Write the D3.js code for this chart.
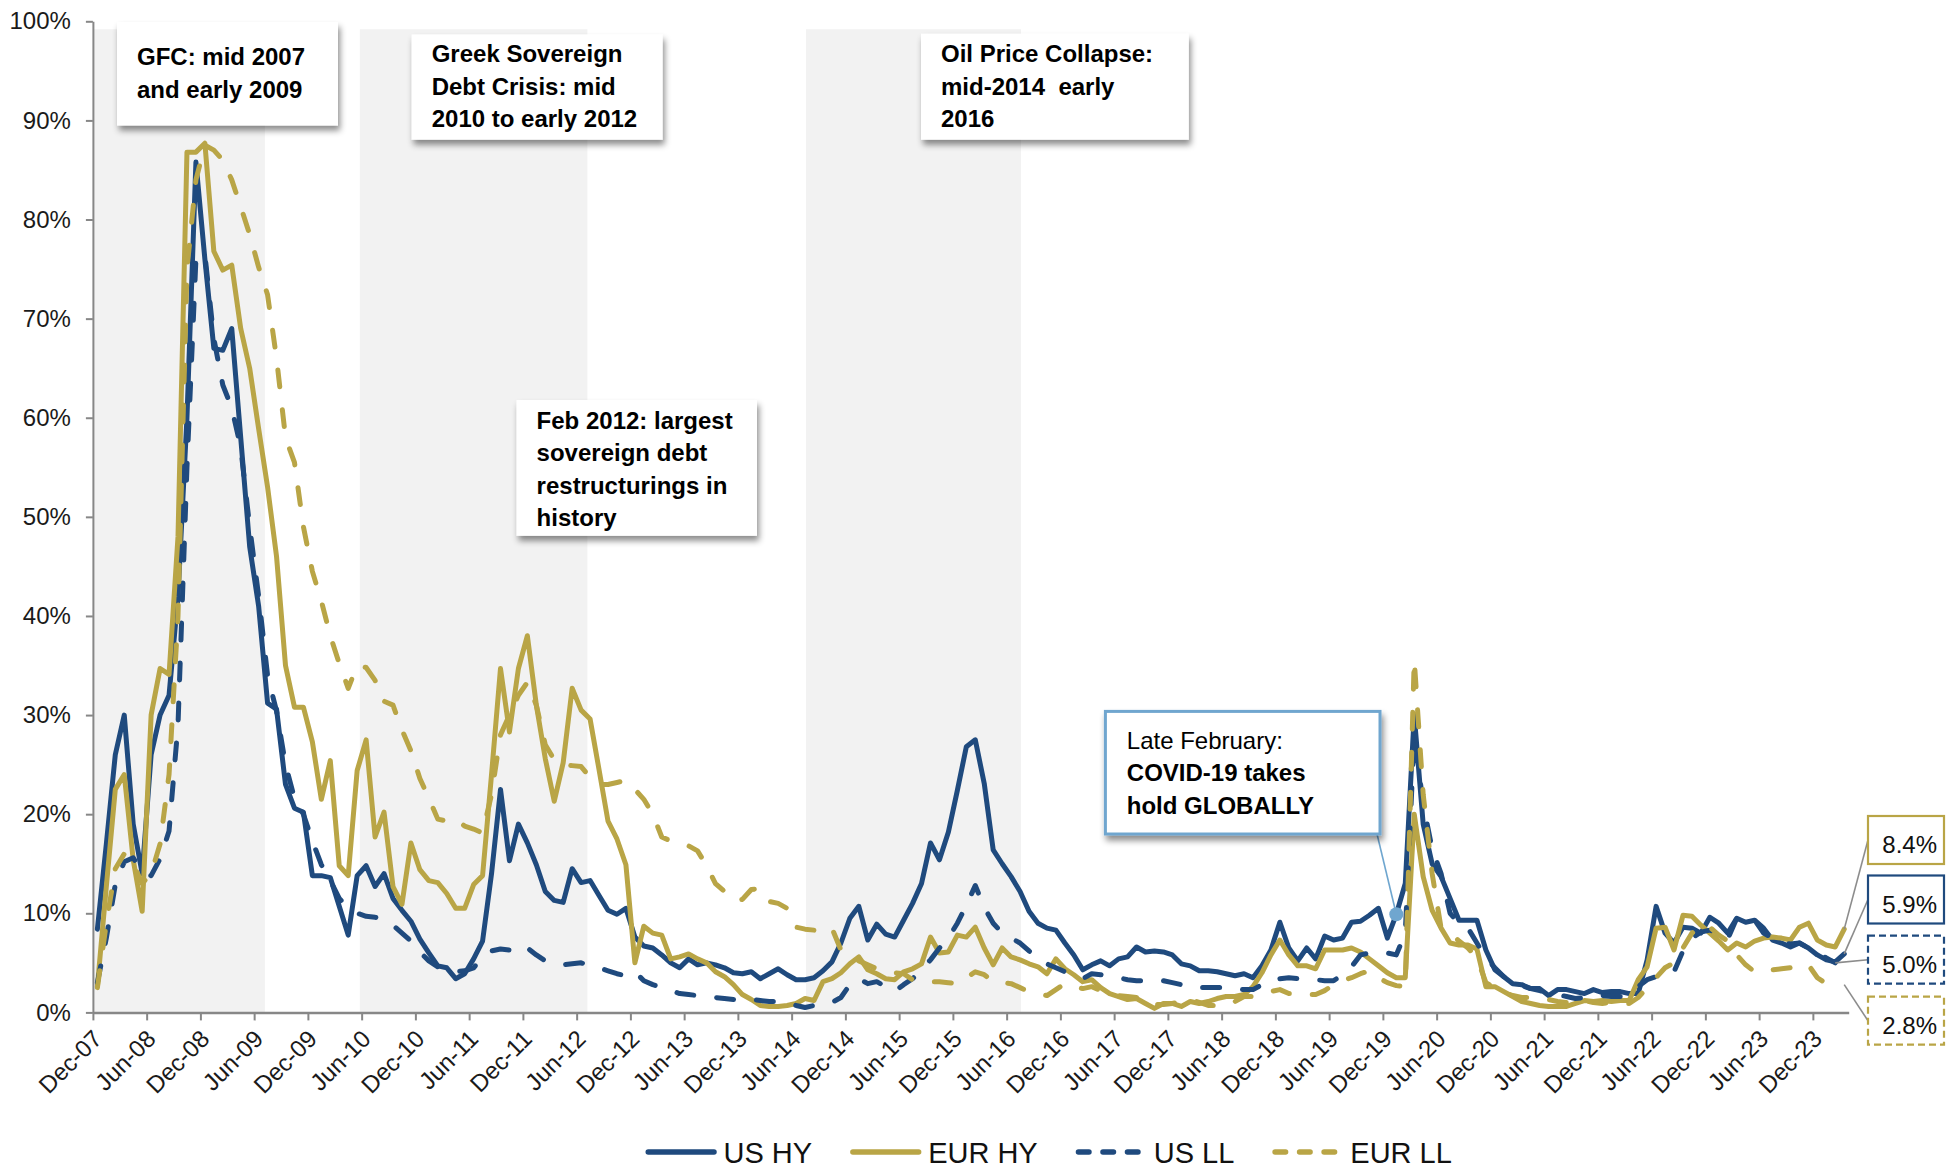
<!DOCTYPE html>
<html>
<head>
<meta charset="utf-8">
<script src="https://cdn.jsdelivr.net/npm/d3@7"></script>
<style>
  html, body { margin: 0; padding: 0; background: #ffffff; }
  svg { display: block; font-family: "Liberation Sans", Arial, Helvetica, sans-serif; }
</style>
</head>
<body>
<svg id="chart" width="1954" height="1167"></svg>
<script>
// Monthly default-rate style series, Dec-07 (index 0) through Mar-24 (index 195), in percent.
const tickLabels = ["Dec-07","Jun-08","Dec-08","Jun-09","Dec-09","Jun-10","Dec-10","Jun-11","Dec-11",
  "Jun-12","Dec-12","Jun-13","Dec-13","Jun-14","Dec-14","Jun-15","Dec-15","Jun-16","Dec-16","Jun-17",
  "Dec-17","Jun-18","Dec-18","Jun-19","Dec-19","Jun-20","Dec-20","Jun-21","Dec-21","Jun-22","Dec-22",
  "Jun-23","Dec-23"];

const yTicks = [0, 10, 20, 30, 40, 50, 60, 70, 80, 90, 100];

const usHY = [
  8.4, 17, 26, 30, 19, 14, 26, 30, 32, 42,
  60, 85.8, 76, 67, 66.8, 69, 58, 47, 41, 31.2,
  30.6, 23, 20.6, 20.2, 13.8, 13.8, 13.6, 10.7, 7.8, 13.8,
  14.8, 12.7, 14, 11.5, 10.3, 9.2, 7.4, 6, 4.7, 4.5,
  3.4, 3.9, 5.4, 7.2, 14, 22.5, 15.3, 19, 17.1, 14.9,
  12.2, 11.3, 11.1, 14.5, 13.1, 13.3, 11.8, 10.3, 9.9, 10.5,
  7.6, 6.7, 6.5, 5.8, 5.0, 4.5, 5.4, 4.8, 5.0, 4.8,
  4.5, 4.0, 3.9, 4.1, 3.4, 3.9, 4.4, 3.8, 3.3, 3.3,
  3.5, 4.2, 5.1, 7.0, 9.5, 10.7, 7.3, 8.9, 7.9, 7.6,
  9.3, 11, 13, 17.1, 15.4, 18.2, 22.4, 26.8, 27.5, 23.1,
  16.4, 15, 13.7, 12.2, 10.2, 9, 8.5, 8.3, 7, 5.8,
  4.3, 4.8, 5.2, 4.7, 5.4, 5.6, 6.6, 6.1, 6.2, 6.1,
  5.8, 4.9, 4.7, 4.2, 4.2, 4.1, 3.9, 3.7, 3.9, 3.5,
  4.7, 6.3, 9.1, 6.5, 5.2, 6.5, 5.4, 7.7, 7.3, 7.5,
  9.1, 9.2, 9.8, 10.5, 7.5, 9.9, 13, 30, 19, 15,
  13.7, 11.5, 9.3, 9.3, 9.3, 6.3, 4.3, 3.6, 2.9, 2.8,
  2.4, 2.4, 1.7, 2.3, 2.3, 2.1, 1.9, 2.3, 2.0, 2.1,
  2.1, 1.9, 1.9, 5.3, 10.7, 8.0, 7.0, 8.6, 8.5, 8.0,
  9.6, 9.0, 8.0, 9.5, 9.1, 9.3, 8.5, 7.3, 7.0, 6.6,
  7.0, 6.5, 5.8, 5.3, 5.1, 5.9
];

const eurHY = [
  2.6, 12.7, 22.5, 24, 15.4, 10.2, 30, 34.7, 34.1, 48,
  86.8, 86.8, 87.7, 76.8, 74.9, 75.4, 69, 65, 58.9, 53,
  46, 35, 30.8, 30.8, 27.3, 21.5, 25.4, 14.8, 13.8, 24.4,
  27.5, 17.7, 20.2, 12.7, 10.9, 17.1, 14.4, 13.3, 13.1, 12,
  10.5, 10.5, 12.9, 13.8, 24, 34.7, 28.3, 34.7, 38, 31,
  25.6, 21.3, 25.2, 32.7, 30.5, 29.6, 24.5, 19.3, 17.5, 14.9,
  5, 8.7, 8, 7.8, 5.4, 5.6, 5.9, 5.4, 5, 4.1,
  3.6, 2.8, 1.8, 1.3, 0.7, 0.6, 0.6, 0.7, 0.9, 1.4,
  1.2, 3.1, 3.4, 4, 4.9, 5.6, 4.3, 3.9, 3.4, 3.3,
  4.1, 4.4, 4.9, 7.6, 6, 6.1, 7.8, 7.6, 8.6, 6.5,
  4.8, 6.5, 5.6, 5.3, 4.9, 4.6, 3.9, 5.4, 4.4, 3.8,
  3.1, 3.3, 2.5, 1.9, 1.6, 1.3, 1.4, 0.9, 0.4, 0.9,
  0.9, 0.6, 1.1, 0.9, 1.1, 1.4, 1.6, 1.6, 1.8, 2.6,
  4, 5.8, 7.3, 5.8, 4.7, 4.7, 4.4, 6.3, 6.3, 6.3,
  6.5, 6.1, 5.4, 4.7, 4, 3.5, 3.5, 20, 13.7, 10.3,
  8.5, 7, 6.8, 6.8, 6.4, 2.6, 2.6, 2.1, 1.6, 1.1,
  0.9, 0.7, 0.6, 0.6, 0.6, 0.9, 1.2, 1.1, 1.2, 1.1,
  1.2, 1.2, 3.3, 4.6, 8.5, 8.6, 6.3, 9.8, 9.7, 8.8,
  8, 7.2, 6.3, 7, 6.6, 7.2, 7.5, 7.6, 7.5, 7.3,
  8.6, 9, 7.3, 6.8, 6.6, 8.4
];

const usLL = [
  3, 7.5, 12.9, 15.2, 15.6, 14.2, 13.8, 15.5, 18.3, 29,
  55, 76, 76.5, 68, 63.3, 61, 57, 49, 42, 34,
  30.4, 25, 21.6, 20, 17.3, 14.9, 13.3, 11.5, 10.5, 10,
  9.7, 9.6, 9.3, 8.8, 8, 7.2, 6.1, 5.2, 4.6, 4.4,
  4.1, 4.2, 4.5, 5.6, 6.2, 6.4, 6.3, 6.8, 6.5, 5.8,
  5.2, 5, 4.8, 4.9, 5, 4.7, 4.5, 4.2, 3.9, 3.7,
  4.1, 3.2, 2.8, 2.5, 2.2, 1.9, 1.8, 1.7, 1.6, 1.5,
  1.4, 1.3, 1.2, 1.3, 1.2, 1.1, 1.1, 1, 0.7, 0.5,
  0.7, 0.9, 1, 1.5, 2.8, 3.4, 2.9, 3.1, 2.6, 2.1,
  2.8, 3.4, 4.3, 5.3, 6.5, 7.5, 9, 10.8, 12.8, 10.6,
  9, 8, 7.5, 7, 6.2, 5.6, 4.9, 4.5, 4.1, 3.7,
  3.4, 3.9, 3.8, 3.7, 3.5, 3.3, 3.2, 3.2, 3.2, 3.2,
  3, 2.8, 2.5, 2.5, 2.5, 2.5, 2.5, 2.4, 2.3, 2.3,
  2.8, 3.3, 3.4, 3.5, 3.4, 3.3, 3.3, 3.2, 3.2, 3.8,
  4.6, 5.8, 6, 6.1, 6, 5.8, 8, 28, 21, 16.5,
  14, 10, 9, 8.5, 7, 5.5, 4.5, 3.6, 3.1, 2.7,
  2.4, 2.2, 2, 1.8, 1.6, 1.4, 1.5, 1.7, 1.7, 1.6,
  1.6, 1.9, 2.6, 3.3, 3.6, 3.9, 4.1, 6.2, 7.5, 8.1,
  8.3, 8, 7.4, 9.5, 9.4, 9.3, 8, 7.5, 7, 6.9,
  7, 6.5, 6, 5.5, 5.0
];

const eurLL = [
  2.5, 9, 14.5, 16, 15, 13, 14, 17, 24, 40,
  75, 84, 87.5, 87, 86, 84, 81.3, 78.5, 75.2, 72.4,
  66, 58, 55.5, 49, 44.5, 41.5, 38, 35.2, 32.7, 35,
  34.8, 33.5, 31.4, 31, 28.5, 26.4, 23.6, 21.6, 19.5, 19.3,
  19.5, 18.8, 18.5, 18.1, 22, 28, 30, 32, 33.3, 31,
  27, 25.5, 25, 24.9, 24.8, 23.7, 23, 23, 23.2, 23.4,
  22.5, 21.5, 20, 17.7, 17.3, 17, 16.8, 16.3, 14.8, 13,
  12.2, 11.3, 11.4, 12.4, 12.5, 11.2, 11, 10.5, 8.6, 8.4,
  8.3, 8.6, 8.5, 6.3, 5.6, 5.2, 4.8, 4.4, 4.1, 4,
  3.9, 3.3, 3.2, 3.1, 3.1, 3, 2.9, 3.5, 4.1, 3.8,
  3.1, 3, 2.9, 2.5, 2.1, 1.9, 1.7, 2.3, 2.9, 2.6,
  2.4, 2.6, 2.2, 1.9, 1.7, 1.6, 1.5, 1.4, 0.8, 0.8,
  0.9, 1.1, 1.3, 1, 0.7, 0.7, 0.7, 1.1, 1.6, 1.6,
  1.8, 2.1, 2.3, 1.9, 1.9, 1.8, 1.8, 2.2, 2.8, 3.2,
  3.5, 3.9, 4.2, 3.5, 3, 2.7, 2.6, 35.6, 22, 14,
  8.5, 8, 7.2, 6.5, 5.5, 3, 2.5, 2, 1.7, 1.5,
  1.5, 1.4, 1.3, 1.1, 1, 1.1, 1.2, 1, 0.9, 1,
  0.9, 0.9, 1.5, 2.5, 3.5, 4.5, 5, 6.5, 8, 8.8,
  8.6, 7.8, 7.2, 5.8, 4.8, 4.1, 4.2, 4.3, 4.4, 4.5,
  4.7, 4.8, 3.5, 2.9, 2.8, 2.8
];

// Stress periods, as month offsets from Dec-07.
const crisisStart = [0, 29.8, 79.6];
const crisisEnd = [19.2, 55.2, 103.6];
const crisisTop = 99.2;

const NAVY = "#1f4a7e";
const GOLD = "#b9a546";
const AXIS = "#878787";
const COVID_BLUE = "#6fa6cf";

const series = [
  { name: "US HY",  values: usHY,  color: NAVY, dash: null },
  { name: "EUR HY", values: eurHY, color: GOLD, dash: null },
  { name: "US LL",  values: usLL,  color: NAVY, dash: "17,23" },
  { name: "EUR LL", values: eurLL, color: GOLD, dash: "17,23" }
];

const svg = d3.select("#chart");

const x = d3.scaleLinear().domain([0, 196]).range([92.9, 1848.7]);
const y = d3.scaleLinear().domain([0, 100]).range([1012.4, 21.3]);

const defs = svg.append("defs");
const shadow = defs.append("filter").attr("id", "shadow")
  .attr("x", "-10%").attr("y", "-10%").attr("width", "130%").attr("height", "140%");
shadow.append("feDropShadow").attr("dx", 2).attr("dy", 5).attr("stdDeviation", 3)
  .attr("flood-color", "#000").attr("flood-opacity", 0.45);

// Shaded stress periods
svg.append("g").selectAll("rect")
  .data(d3.range(crisisStart.length))
  .join("rect")
  .attr("x", i => x(crisisStart[i]))
  .attr("width", i => x(crisisEnd[i]) - x(crisisStart[i]))
  .attr("y", y(crisisTop))
  .attr("height", y(0) - y(crisisTop))
  .attr("fill", "#f2f2f2");

// Y axis
const yAxis = svg.append("g")
  .attr("transform", `translate(${x(0)},0)`)
  .call(d3.axisLeft(y).tickValues(yTicks).tickSize(7).tickSizeOuter(0).tickPadding(15)
    .tickFormat(d => d + "%"));
yAxis.select(".domain").attr("stroke", AXIS).attr("stroke-width", 2);
yAxis.selectAll(".tick line").attr("stroke", AXIS).attr("stroke-width", 2);
yAxis.selectAll(".tick text").attr("font-size", 24).attr("fill", "#1a1a1a")
  .attr("font-family", "Liberation Sans, Arial, sans-serif");

// X axis
const xAxis = svg.append("g")
  .attr("transform", `translate(0,${y(0)})`)
  .call(d3.axisBottom(x).tickValues(d3.range(0, 193, 6)).tickSize(8).tickSizeOuter(0)
    .tickFormat((d, i) => tickLabels[i]));
xAxis.select(".domain").attr("stroke", AXIS).attr("stroke-width", 2.5);
xAxis.selectAll(".tick line").attr("stroke", AXIS).attr("stroke-width", 2);
xAxis.selectAll(".tick text")
  .attr("font-size", 24).attr("fill", "#1a1a1a")
  .attr("font-family", "Liberation Sans, Arial, sans-serif")
  .attr("text-anchor", "end")
  .attr("y", null).attr("dy", null)
  .attr("transform", "translate(10,28) rotate(-45)");

// Series lines
const line = d3.line()
  .x((d, i) => x(i + 0.5))
  .y(d => y(d));

svg.append("g").selectAll("path")
  .data(series)
  .join("path")
  .attr("d", s => line(s.values))
  .attr("fill", "none")
  .attr("stroke", s => s.color)
  .attr("stroke-width", 5)
  .attr("stroke-linejoin", "round")
  .attr("stroke-linecap", "round")
  .attr("stroke-dasharray", s => s.dash);

// Annotation boxes
function noteBox(x0, y0, w, h, lines, opts = {}) {
  const g = svg.append("g");
  g.append("rect")
    .attr("x", x0).attr("y", y0).attr("width", w).attr("height", h)
    .attr("fill", "#fff")
    .attr("stroke", opts.stroke || "none")
    .attr("stroke-width", opts.strokeWidth || 0)
    .attr("filter", "url(#shadow)");
  lines.forEach((ln, k) => {
    g.append("text")
      .attr("x", opts.tx).attr("y", opts.ty + k * 32.5)
      .attr("font-size", 24)
      .attr("font-weight", ln.bold === false ? "normal" : "bold")
      .attr("fill", "#000")
      .style("white-space", "pre")
      .text(ln.t);
  });
  return g;
}

noteBox(117, 22, 221, 103.5,
  [{ t: "GFC: mid 2007" }, { t: "and early 2009" }], { tx: 137, ty: 65 });
noteBox(411.6, 34.4, 251, 105.3,
  [{ t: "Greek Sovereign" }, { t: "Debt Crisis: mid" }, { t: "2010 to early 2012" }], { tx: 431.7, ty: 62 });
noteBox(921, 33.7, 267.8, 106,
  [{ t: "Oil Price Collapse:" }, { t: "mid-2014  early" }, { t: "2016" }], { tx: 941, ty: 62 });
noteBox(516.5, 400, 240.5, 135.8,
  [{ t: "Feb 2012: largest" }, { t: "sovereign debt" }, { t: "restructurings in" }, { t: "history" }],
  { tx: 536.6, ty: 428.5 });

// COVID callout
const covidIdx = 145;
const dotX = x(covidIdx + 0.5), dotY = y(usHY[covidIdx]);
svg.append("line")
  .attr("x1", 1377).attr("y1", 834).attr("x2", dotX).attr("y2", dotY)
  .attr("stroke", COVID_BLUE).attr("stroke-width", 1.6);
svg.append("circle").attr("cx", dotX).attr("cy", dotY).attr("r", 7).attr("fill", COVID_BLUE);
noteBox(1105.4, 711.4, 274.6, 122.6,
  [{ t: "Late February:", bold: false }, { t: "COVID-19 takes" }, { t: "hold GLOBALLY" }],
  { tx: 1126.8, ty: 748.7, stroke: COVID_BLUE, strokeWidth: 3 });

// Latest-value labels on the right
const latest = [
  { s: series[1], top: 816.0,  dashed: false },
  { s: series[0], top: 875.5,  dashed: false },
  { s: series[2], top: 935.7,  dashed: true },
  { s: series[3], top: 996.7,  dashed: true }
];
const boxX = 1868, boxW = 76, boxH = 48;
const lg = svg.append("g");
latest.forEach(d => {
  const vals = d.s.values;
  const last = vals.length - 1;
  lg.append("line")
    .attr("x1", x(last + 0.5)).attr("y1", y(vals[last]))
    .attr("x2", boxX).attr("y2", d.top + boxH / 2)
    .attr("stroke", "#8c8c8c").attr("stroke-width", 1.6);
  lg.append("rect")
    .attr("x", boxX).attr("y", d.top).attr("width", boxW).attr("height", boxH)
    .attr("fill", "#fff").attr("stroke", d.s.color).attr("stroke-width", 2.2)
    .attr("stroke-dasharray", d.dashed ? "7,4" : null);
  lg.append("text")
    .attr("x", boxX + boxW - 7).attr("y", d.top + 37)
    .attr("text-anchor", "end").attr("font-size", 24).attr("fill", "#111")
    .text(d3.format(".1f")(vals[last]) + "%");
});

// Legend
const legend = svg.append("g");
let lx = 645.5;
const ly = 1152;
series.forEach(s => {
  legend.append("line")
    .attr("x1", lx + 2.75).attr("x2", lx + 68.5).attr("y1", ly).attr("y2", ly)
    .attr("stroke", s.color).attr("stroke-width", 5.5)
    .attr("stroke-linecap", "round")
    .attr("stroke-dasharray", s.dash ? "10.5,14" : null);
  const t = legend.append("text")
    .attr("x", lx + 78).attr("y", ly + 10.5)
    .attr("font-size", 29).attr("fill", "#111")
    .text(s.name);
  lx = lx + 78 + t.node().getComputedTextLength() + 38;
});
</script>
</body>
</html>
